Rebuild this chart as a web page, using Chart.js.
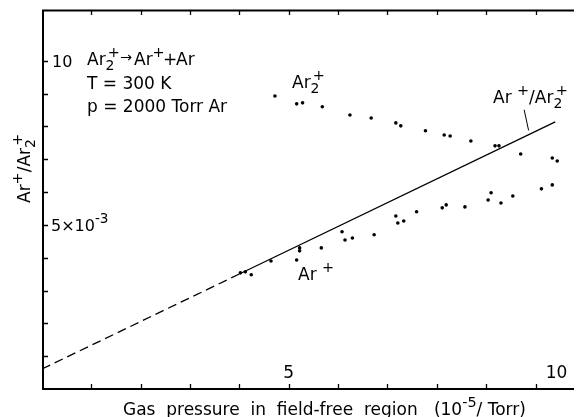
<!DOCTYPE html>
<html><head><meta charset="utf-8">
<script src="https://cdn.jsdelivr.net/npm/chart.js@4/dist/chart.umd.min.js"></script>
<style>html,body{margin:0;padding:0;background:#fff}#wrap{width:578px;height:417px}</style>
</head><body><div id="wrap"><canvas id="c" width="578" height="417"></canvas></div>
<script>
// Gas pressure (10^-5 Torr) and signal (y axis units of 10^-3)
const ar2Pressure = [4.72, 5.16, 5.28, 5.68, 6.24, 6.67, 7.17, 7.27, 7.77, 8.15, 8.27, 8.69, 9.18, 9.26, 9.70, 10.34, 10.44];
const ar2Signal   = [8.93, 8.69, 8.72, 8.60, 8.35, 8.26, 8.11, 8.02, 7.87, 7.74, 7.71, 7.56, 7.41, 7.41, 7.16, 7.04, 6.95];
const arPressure  = [4.02, 4.12, 4.24, 4.64, 5.16, 5.22, 5.22, 5.66, 6.08, 6.14, 6.29, 6.73, 7.17, 7.21, 7.33, 7.59, 8.11, 8.19, 8.57, 9.04, 9.10, 9.30, 9.54, 10.12, 10.34];
const arSignal    = [3.54, 3.57, 3.48, 3.90, 3.93, 4.30, 4.21, 4.30, 4.79, 4.54, 4.60, 4.70, 5.27, 5.06, 5.12, 5.40, 5.52, 5.61, 5.55, 5.76, 5.98, 5.67, 5.88, 6.10, 6.22];
const ratioExtrapX = [0, 4.02];
const ratioExtrapY = [0.61, 3.52];
const ratioFitX    = [4.02, 10.4];
const ratioFitY    = [3.52, 8.14];
const leaderX      = [9.77, 9.86];
const leaderY      = [8.51, 7.88];
const xTickValues  = [1, 2, 3, 4, 5, 6, 7, 8, 9, 10];
const xTickLabels  = ['5', '10'];
const xLabelValues = [5, 10];
const yTickValues  = [1, 2, 3, 4, 5, 6, 7, 8, 9, 10];

const pts = (xs, ys) => xs.map((x, i) => ({x: x, y: ys[i]}));
const FONT = '"DejaVu Sans", sans-serif';

function rich(ctx, x, y, parts, size) {
  let cx = x;
  let lastBaseX = x;
  for (const p of parts) {
    const [t, kind] = p;
    let s = size, dy = 0;
    if (kind === 'sup') { s = size * 0.85; dy = -size * 0.5; }
    if (kind === 'sub') { s = size * 0.82; dy = size * 0.3; }
    ctx.font = s + 'px ' + FONT;
    let sx = cx;
    if (kind === 'sup' && p[2]) sx = lastBaseX + s * 0.15; // stack over subscript
    ctx.fillText(t, sx, y + dy);
    const w = ctx.measureText(t).width;
    if (kind === 'sub') lastBaseX = cx;
    cx = Math.max(cx, sx + w);
    if (kind !== 'sub') lastBaseX = cx;
  }
  return cx;
}

const deco = {
  id: 'deco',
  afterDraw(chart) {
    const ctx = chart.ctx, a = chart.chartArea;
    const xs = chart.scales.x, ys = chart.scales.y;
    ctx.save();
    ctx.strokeStyle = '#000'; ctx.fillStyle = '#000';
    ctx.lineWidth = 2;
    ctx.beginPath();
    ctx.moveTo(a.right, a.top + 0.5); ctx.lineTo(a.left + 1, a.top + 0.5);
    ctx.lineTo(a.left + 1, a.bottom); ctx.lineTo(a.right, a.bottom);
    ctx.stroke();
    ctx.lineWidth = 1.3;
    ctx.beginPath();
    for (const v of xTickValues) {
      const px = Math.round(xs.getPixelForValue(v)) + 0.5;
      ctx.moveTo(px, a.bottom); ctx.lineTo(px, a.bottom - 5);
      ctx.moveTo(px, a.top); ctx.lineTo(px, a.top + 5);
    }
    for (const v of yTickValues) {
      const py = Math.round(ys.getPixelForValue(v)) + 0.5;
      ctx.moveTo(a.left, py); ctx.lineTo(a.left + 6, py);
    }
    ctx.stroke();
    const size = 17;
    ctx.textBaseline = 'alphabetic';
    ctx.font = size + 'px ' + FONT;
    // x tick labels (inside, above axis)
    ctx.textAlign = 'center';
    ctx.fillText(xTickLabels[0], xs.getPixelForValue(xLabelValues[0]), a.bottom - 11);
    ctx.fillText(xTickLabels[1], xs.getPixelForValue(xLabelValues[1]) + 21, a.bottom - 11);
    ctx.textAlign = 'left';
    // y tick labels
    ctx.font = '16px ' + FONT;
    ctx.fillText('10', a.left + 10, ys.getPixelForValue(10) + 6);
    rich(ctx, a.left + 9, ys.getPixelForValue(5) + 6, [['5×10', 'n'], ['-3', 'sup']], 16);
    // reaction block
    rich(ctx, 87, 65, [['Ar', 'n'], ['2', 'sub'], ['+', 'sup', true]], size);
    ctx.font = (size * 0.85) + 'px ' + FONT;
    ctx.fillText('→', 120, 62);
    rich(ctx, 134, 65, [['Ar', 'n'], ['+', 'sup']], size);
    ctx.font = size + 'px ' + FONT;
    ctx.fillText('+', 163, 65);
    ctx.fillText('Ar', 176, 65);
    ctx.fillText('T = 300 K', 87, 89);
    ctx.fillText('p = 2000 Torr Ar', 87, 112);
    // series labels
    rich(ctx, 292, 88, [['Ar', 'n'], ['2', 'sub'], ['+', 'sup', true]], size);
    rich(ctx, 298, 280, [['Ar ', 'n'], ['+', 'sup']], size);
    rich(ctx, 493, 103, [['Ar ', 'n'], ['+', 'sup'], ['/Ar', 'n'], ['2', 'sub'], ['+', 'sup', true]], size);
    // x axis title
    rich(ctx, 123, 415, [['Gas  pressure  in  field-free  region   (10', 'n'], ['-5', 'sup'], ['/ Torr)', 'n']], size);
    // y axis title
    ctx.translate(30, 203); ctx.rotate(-Math.PI / 2);
    rich(ctx, 0, 0, [['Ar', 'n'], ['+', 'sup'], ['/Ar', 'n'], ['2', 'sub'], ['+', 'sup', true]], size);
    ctx.restore();
  }
};

new Chart(document.getElementById('c'), {
  type: 'scatter',
  data: {
    datasets: [
      {label: 'Ar2+', data: pts(ar2Pressure, ar2Signal), pointRadius: 1.8, pointBackgroundColor: '#000', pointBorderWidth: 0, showLine: false},
      {label: 'Ar+', data: pts(arPressure, arSignal), pointRadius: 1.8, pointBackgroundColor: '#000', pointBorderWidth: 0, showLine: false},
      {label: 'Ar+/Ar2+ fit', data: pts(ratioFitX, ratioFitY), showLine: true, pointRadius: 0, borderColor: '#000', borderWidth: 1.3},
      {label: 'extrapolation', data: pts(ratioExtrapX, ratioExtrapY), showLine: true, pointRadius: 0, borderColor: '#000', borderWidth: 1.3, borderDash: [9, 5]},
      {label: 'leader', data: pts(leaderX, leaderY), showLine: true, pointRadius: 0, borderColor: '#000', borderWidth: 1}
    ]
  },
  options: {
    responsive: false, animation: false, devicePixelRatio: 1,
    layout: {padding: {left: 42, top: 10, right: 0, bottom: 28}},
    plugins: {legend: {display: false}, tooltip: {enabled: false}},
    scales: {
      x: {type: 'linear', min: 0, max: 10.78, display: false},
      y: {type: 'linear', min: 0, max: 11.55, display: false}
    }
  },
  plugins: [deco]
});
</script></body></html>
